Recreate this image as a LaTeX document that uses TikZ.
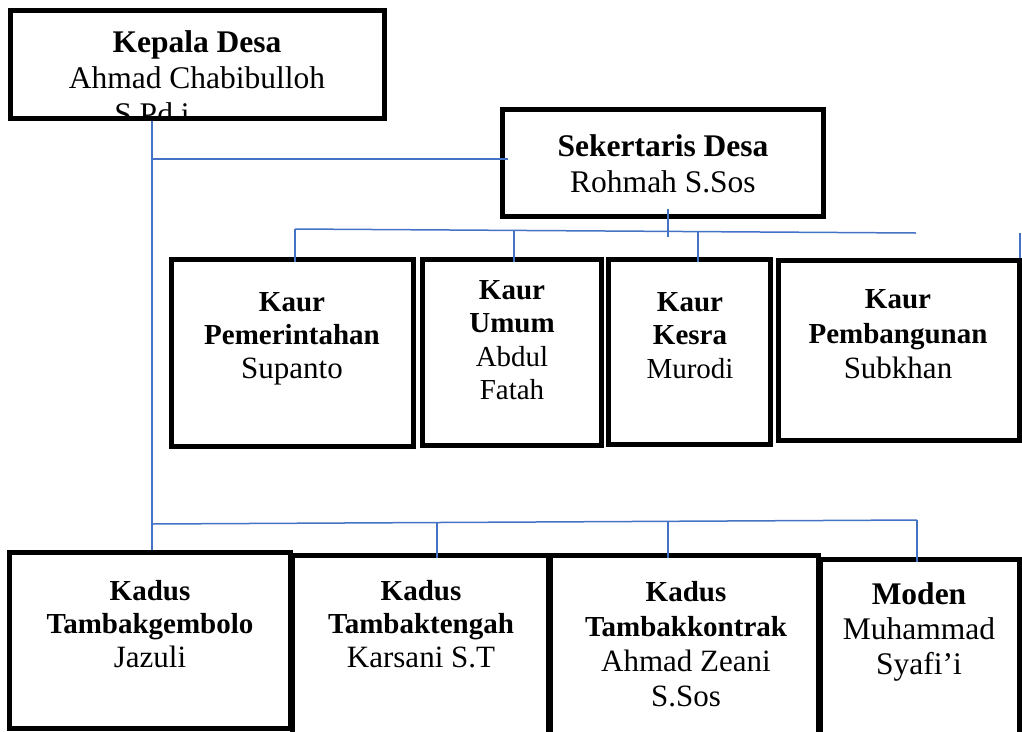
\documentclass[tikz,border=0pt]{standalone}
\usepackage{fontspec}
\setmainfont{Liberation Serif}
\definecolor{lineblue}{RGB}{68,114,196}
\newcommand{\fbig}{\fontsize{31.5}{36}\selectfont}
\newcommand{\fbigm}{\fontsize{31.5}{35}\selectfont}
\newcommand{\fmid}{\fontsize{29}{33.5}\selectfont}
\newcommand{\fmidw}{\fontsize{29}{35}\selectfont}
\newcommand{\fname}{\fontsize{31}{33.5}\selectfont}
\tikzset{
  box/.style={draw=black, line width=5pt, rectangle, inner sep=0pt, outer sep=0pt},
  conn/.style={draw=lineblue, line width=1.5pt},
  txt/.style={align=center, anchor=base, inner sep=0pt, outer sep=0pt},
}
\begin{document}
\begin{tikzpicture}[x=1pt,y=-1pt]
\useasboundingbox (0,0) rectangle (1022,731);
\clip (0,0) rectangle (1022,731);
% boxes
\node[box, minimum width=374pt, minimum height=107.5pt] (kepala) at (197,64.25) {};
\node[box, minimum width=321pt, minimum height=107pt] (sekdes) at (663,163) {};
\node[box, minimum width=242pt, minimum height=187pt] (kpem) at (292,353) {};
\node[box, minimum width=179pt, minimum height=186pt] (kumum) at (511.5,352.5) {};
\node[box, minimum width=162.5pt, minimum height=185pt] (kkesra) at (689.25,352) {};
\node[box, minimum width=241.5pt, minimum height=180.5pt] (kpemb) at (898.75,350.25) {};
\node[box, minimum width=280.5pt, minimum height=175.5pt] (kd1) at (149.75,640.25) {};
\node[box, minimum width=256pt, minimum height=204.5pt] (kd2) at (420,657.75) {};
\node[box, minimum width=268.5pt, minimum height=204.5pt] (kd3) at (684.25,657.75) {};
\node[box, minimum width=199pt, minimum height=200.5pt] (moden) at (920,659.75) {};
% texts (anchor = baseline of the last line)
\begin{scope}
\clip (12.5,13) rectangle (381.5,115.5);
\node[txt, font=\fbig] (tkepala) at (197,124) {\textbf{Kepala Desa}\\Ahmad Chabibulloh\\S.Pd.i\hspace*{90pt}};
\end{scope}
\node[txt, font=\fbig] (tsek) at (663,192) {\textbf{Sekertaris Desa}\\Rohmah S.Sos};
\node[txt, font=\fmid] (tpem) at (292,378) {\textbf{Kaur}\\\textbf{Pemerintahan}\\{\fname Supanto}};
\node[txt, font=\fmid] (tumum) at (512,399.5) {\textbf{Kaur}\\\textbf{Umum}\\Abdul\\Fatah};
\node[txt, font=\fmid] (tkesra) at (690,378) {\textbf{Kaur}\\\textbf{Kesra}\\Murodi};
\node[txt, font=\fmidw] (tpemb) at (898,378) {\textbf{Kaur}\\\textbf{Pembangunan}\\{\fname Subkhan}};
\node[txt, font=\fmid] (tkd1) at (150,667) {\textbf{Kadus}\\\textbf{Tambakgembolo}\\{\fname Jazuli}};
\node[txt, font=\fmid] (tkd2) at (421,667) {\textbf{Kadus}\\\textbf{Tambaktengah}\\{\fname Karsani S.T}};
\node[txt, font=\fmidw] (tkd3) at (686,706) {\textbf{Kadus}\\\textbf{Tambakkontrak}\\{\fname Ahmad Zeani}\\{\fname S.Sos}};
\node[txt, font=\fbigm] (tmoden) at (919,674) {\textbf{Moden}\\Muhammad\\Syafi’i};
% connectors
\coordinate (kv) at (152,120.5);
\coordinate (jk) at (152,159);
\coordinate (s1) at (668,209);
\coordinate (s2) at (668,237);
\coordinate (h1) at (295,229);
\coordinate (h2) at (514,230.2);
\coordinate (h3) at (698,231.3);
\coordinate (h4) at (916,233);
\coordinate (r1) at (1020,233);
\coordinate (d0) at (152,524);
\coordinate (d1) at (437,523);
\coordinate (d2) at (668,522);
\coordinate (d3) at (917,520);
\draw[conn, shorten >=2.5pt] (kv) -- (kv |- kd1.north);
\draw[conn] (jk) -- ([xshift=5pt]jk -| sekdes.west);
\draw[conn] (s1) -- (s2);
\draw[conn] (h1) -- (h4);
\draw[conn, shorten >=-2.5pt] (h1) -- (h1 |- kpem.north);
\draw[conn, shorten >=-2.5pt] (h2) -- (h2 |- kumum.north);
\draw[conn, shorten >=-2.5pt] (h3) -- (h3 |- kkesra.north);
\draw[conn, shorten >=2.5pt] (r1) -- (r1 |- kpemb.north);
\draw[conn] (d0) -- (d3);
\draw[conn, shorten >=-2.5pt] (d1) -- (d1 |- kd2.north);
\draw[conn, shorten >=-2.5pt] (d2) -- (d2 |- kd3.north);
\draw[conn, shorten >=-2.5pt] (d3) -- (d3 |- moden.north);
\end{tikzpicture}
\end{document}
